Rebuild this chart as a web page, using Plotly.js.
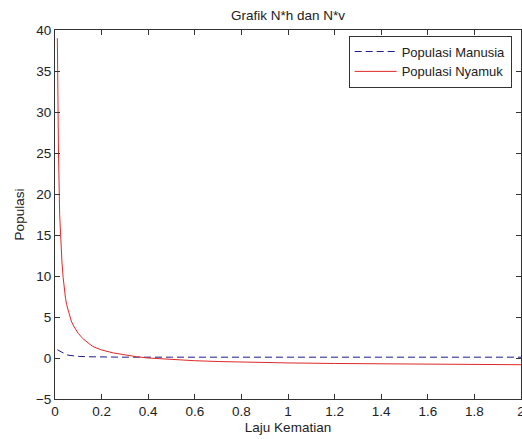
<!DOCTYPE html>
<html>
<head>
<meta charset="utf-8">
<script src="https://cdn.plot.ly/plotly-3.0.1.min.js"></script>
<style>html,body{margin:0;padding:0;background:#fff;}#chart{width:522px;height:439px;}</style>
</head>
<body>
<div id="chart"></div>
<script>
// Populasi Manusia (N*h)
const xManusia = [0.01, 0.02, 0.03, 0.04, 0.05, 0.06, 0.08, 0.1, 0.15, 0.2, 0.3, 0.5, 1.0, 1.5, 2.0];
const yManusia = [1.0, 0.85, 0.65, 0.5, 0.4, 0.33, 0.25, 0.2, 0.15, 0.12, 0.1, 0.1, 0.1, 0.1, 0.1];

// Populasi Nyamuk (N*v)
const xNyamuk = [0.01, 0.0125, 0.015, 0.02, 0.025, 0.03, 0.035, 0.04, 0.045, 0.05, 0.055, 0.06, 0.07, 0.08, 0.09, 0.1,
                 0.12, 0.14, 0.16, 0.18, 0.2, 0.25, 0.3, 0.35, 0.4, 0.5, 0.6, 0.7, 0.8, 0.9, 1.0,
                 1.2, 1.4, 1.6, 1.8, 1.9, 2.0];
const yNyamuk = [39, 31, 25, 17.5, 14, 11.6, 9.8, 8.4, 7.3, 6.5, 5.9, 5.4, 4.5, 3.9, 3.4, 3.0,
                 2.35, 1.85, 1.45, 1.2, 0.98, 0.62, 0.36, 0.16, 0.0, -0.2, -0.33, -0.43, -0.5, -0.55, -0.6,
                 -0.67, -0.71, -0.75, -0.78, -0.8, -0.82];

const seriesNames = ['Populasi Manusia', 'Populasi Nyamuk'];
const xTicks = [0, 0.2, 0.4, 0.6, 0.8, 1, 1.2, 1.4, 1.6, 1.8, 2];
const xTickLabels = ['0', '0.2', '0.4', '0.6', '0.8', '1', '1.2', '1.4', '1.6', '1.8', '2'];
const yTicks = [-5, 0, 5, 10, 15, 20, 25, 30, 35, 40];

const FONT = 'Arial, "Liberation Sans", sans-serif';
const fs = 13.5;

const traces = [
  {x: xManusia, y: yManusia, name: seriesNames[0], type: 'scatter', mode: 'lines',
   line: {color: '#1c1c8c', width: 1, dash: '7px,4px'}},
  {x: xNyamuk, y: yNyamuk, name: seriesNames[1], type: 'scatter', mode: 'lines',
   line: {color: '#e02828', width: 1}}
];

const axisCommon = {
  showgrid: false, zeroline: false, showline: true, linecolor: '#333', linewidth: 1,
  mirror: 'allticks', ticks: 'inside', ticklen: 5, tickcolor: '#333', tickwidth: 1,
  ticklabeloverflow: 'allow',
  tickfont: {family: FONT, size: fs, color: '#222'}, fixedrange: true
};

const layout = {
  width: 522, height: 439,
  margin: {l: 55, r: 1, t: 30, b: 40},
  paper_bgcolor: '#fff', plot_bgcolor: '#fff',
  font: {family: FONT, size: fs, color: '#222'},
  title: {text: 'Grafik N*h dan N*v', font: {family: FONT, size: fs, color: '#222'},
          x: 0.5, xref: 'paper', y: 1, yref: 'paper', yanchor: 'bottom', pad: {b: 10}},
  xaxis: Object.assign({}, axisCommon, {
    range: [0, 2], tickvals: xTicks, ticktext: xTickLabels,
    title: {text: 'Laju Kematian', font: {family: FONT, size: fs, color: '#222'}, standoff: 4}
  }),
  yaxis: Object.assign({}, axisCommon, {
    range: [-5, 40], tickvals: yTicks, ticklabelstandoff: 0,
    title: {text: 'Populasi', font: {family: FONT, size: fs, color: '#222'}, standoff: 8}
  }),
  showlegend: true,
  legend: {
    x: 0.98, xanchor: 'right', y: 0.985, yanchor: 'top',
    bgcolor: '#fff', bordercolor: '#333', borderwidth: 1,
    font: {family: FONT, size: 13, color: '#222'},
    itemwidth: 42, tracegroupgap: 0
  }
};

Plotly.newPlot('chart', traces, layout, {displayModeBar: false, staticPlot: true});
</script>
</body>
</html>
